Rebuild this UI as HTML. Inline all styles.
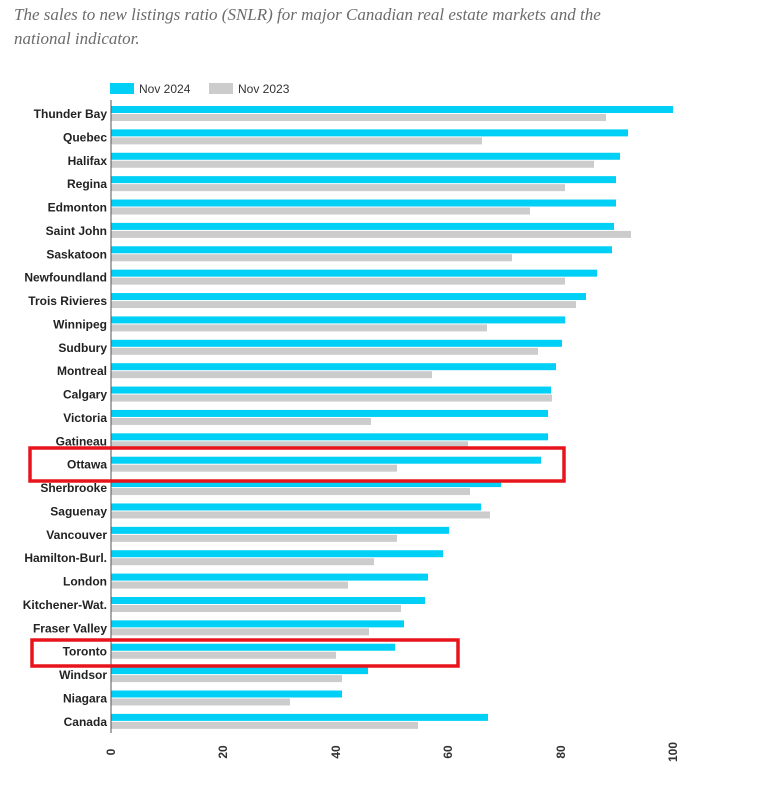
<!DOCTYPE html>
<html><head><meta charset="utf-8"><style>
body{margin:0;background:#fff;width:772px;height:783px;overflow:hidden;}
</style></head><body>
<svg width="772" height="783" xmlns="http://www.w3.org/2000/svg" font-family="Liberation Sans, Arial, sans-serif">
<text x="14" y="20" font-family="Liberation Serif, serif" font-style="italic" font-size="17" fill="#6b6b6b">The sales to new listings ratio (SNLR) for major Canadian real estate markets and the</text>
<text x="14" y="44" font-family="Liberation Serif, serif" font-style="italic" font-size="17" fill="#6b6b6b">national indicator.</text>
<rect x="110" y="83" width="24" height="11" fill="#00d0f5"/>
<text x="139" y="93" font-size="12" fill="#333">Nov 2024</text>
<rect x="209" y="83" width="24" height="11" fill="#cccccc"/>
<text x="238" y="93" font-size="12" fill="#333">Nov 2023</text>
<g id="bars"></g>
<line x1="111" y1="100" x2="111" y2="733" stroke="#555" stroke-width="1"/>
<g font-size="12" font-weight="bold" fill="#333">
<text transform="translate(115,752) rotate(-90)" text-anchor="middle">0</text>
<text transform="translate(227,752) rotate(-90)" text-anchor="middle">20</text>
<text transform="translate(340,752) rotate(-90)" text-anchor="middle">40</text>
<text transform="translate(452,752) rotate(-90)" text-anchor="middle">60</text>
<text transform="translate(565,752) rotate(-90)" text-anchor="middle">80</text>
<text transform="translate(677,752) rotate(-90)" text-anchor="middle">100</text>
</g>
<rect x="30" y="448" width="534" height="33" fill="none" stroke="#e8141b" stroke-width="3.5"/>
<rect x="32" y="640" width="426" height="26" fill="none" stroke="#e8141b" stroke-width="3.5"/>
</svg>
<script>
var d=[["Thunder Bay",673,606],["Quebec",628,482],["Halifax",620,594],["Regina",616,565],["Edmonton",616,530],["Saint John",614,631],["Saskatoon",612,512],["Newfoundland",597,565],["Trois Rivieres",586,576],["Winnipeg",565,487],["Sudbury",562,538],["Montreal",556,432],["Calgary",551,552],["Victoria",548,371],["Gatineau",548,468],["Ottawa",541,397],["Sherbrooke",501,470],["Saguenay",481,490],["Vancouver",449,397],["Hamilton-Burl.",443,374],["London",428,348],["Kitchener-Wat.",425,401],["Fraser Valley",404,369],["Toronto",395,336],["Windsor",368,342],["Niagara",342,290],["Canada",488,418]];
var g=document.getElementById('bars'),ns="http://www.w3.org/2000/svg",s="";
d.forEach(function(r,i){var y=113.5+i*23.38;
s+='<rect x="111" y="'+(y-7.5)+'" width="'+(r[1]-111)+'" height="7" fill="#00d0f5"/>';
s+='<rect x="111" y="'+(y+0.5)+'" width="'+(r[2]-111)+'" height="7" fill="#cccccc"/>';
s+='<text x="107" y="'+(y+4.5)+'" text-anchor="end" font-size="12" font-weight="bold" fill="#222">'+r[0]+'</text>';});
g.innerHTML=s;
</script>
</body></html>
